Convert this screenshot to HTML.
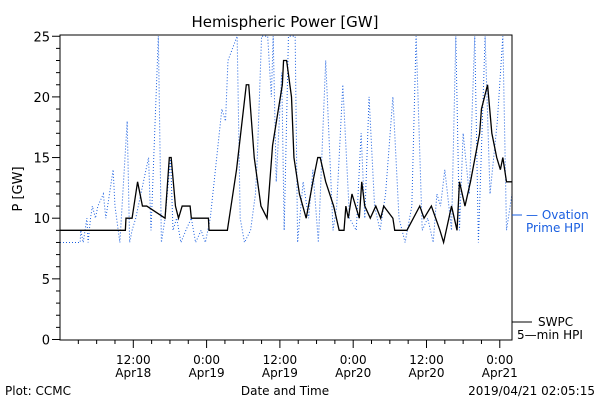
<!DOCTYPE html>
<html><head><meta charset="utf-8"><style>
body{margin:0;background:#fff;}
svg{display:block;font-family:"DejaVu Sans","Liberation Sans",sans-serif;}
</style></head><body>
<svg id="chart" width="600" height="400" viewBox="0 0 600 400" xmlns="http://www.w3.org/2000/svg">
<rect width="600" height="400" fill="#fff"/>
<text x="285" y="27" font-size="15" text-anchor="middle">Hemispheric Power [GW]</text>
<text transform="translate(22,189) rotate(-90)" font-size="13" text-anchor="middle">P [GW]</text>
<g id="yticks"></g><g id="xticks"></g>
<g id="series"></g>
<rect x="60" y="35" width="452" height="305" fill="none" stroke="#000" stroke-width="1"/>
<line x1="512" y1="215" x2="522" y2="215" stroke="#1a5fe0"/>
<text x="526" y="219" font-size="12" fill="#1a5fe0">— Ovation</text>
<text x="526" y="232" font-size="12" fill="#1a5fe0">Prime HPI</text>
<line x1="512" y1="322" x2="532" y2="322" stroke="#000"/>
<text x="538" y="326" font-size="12">SWPC</text>
<text x="517" y="339" font-size="12">5—min HPI</text>
<text x="285" y="395" font-size="12" text-anchor="middle">Date and Time</text>
<text x="5" y="395" font-size="12">Plot: CCMC</text>
<text x="595" y="395" font-size="12" text-anchor="end">2019/04/21 02:05:15</text>
</svg>
<script>
const yTicks=[0,5,10,15,20,25];
const xTickHours=[12,24,36,48,60,72];
const xTickTop=["12:00","0:00","12:00","0:00","12:00","0:00"];
const xTickBottom=["Apr18","Apr19","Apr19","Apr20","Apr20","Apr21"];
const swpcHours=[0,10.7,10.8,11.8,12.7,13.5,14.2,17.2,17.9,18.2,18.9,19.4,20.0,21.3,21.5,24.3,24.4,27.4,28.9,30.5,30.9,31.8,32.9,33.9,34.8,36.4,36.6,37.1,37.9,38.3,39.2,40.3,41.4,42.2,42.6,43.5,44.8,45.7,46.5,46.8,47.2,47.8,49.0,49.4,49.9,50.8,51.7,52.5,53.0,54.5,54.8,56.8,58.9,59.6,60.8,62.2,62.8,64.1,65.0,65.4,66.3,67.2,68.7,69.0,70.0,70.7,71.5,72.1,72.5,73.1,74];
const swpcValues=[9,9,10,10,13,11,11,10,15,15,11,10,11,11,10,10,9,9,14,21,21,15,11,10,16,21,23,23,20,15,12,10,13,15,15,13,11,9,9,11,10,12,10,13,11,10,11,10,11,10,9,9,11,10,11,9,8,11,9,13,11,13,17,19,21,17,15,14,15,13,13];
const ovationHours=[0,3.3,3.4,3.8,4.4,4.6,5.0,5.3,5.8,6.2,7.1,7.5,8.7,9.0,9.8,11.0,11.4,11.8,12.4,14.5,14.9,16.1,16.6,17.2,18.1,18.5,19.1,19.8,20.6,21.5,22.2,23.1,23.8,24.6,26.5,27.1,27.5,29.0,29.5,30.2,31.2,32.0,32.3,33.0,34.0,34.6,34.9,35.4,36.3,36.7,37.4,38.5,38.9,39.8,40.7,41.4,42.3,43.5,44.7,45.3,46.3,47.4,48.5,49.3,49.9,50.6,51.5,52.4,53.3,54.5,55.5,56.5,57.6,58.3,59.3,60.2,61.1,61.7,62.3,63.0,64.1,64.8,65.4,66.0,67.0,67.9,68.5,69.6,70.4,71.6,72.5,73.1,74];
const ovationValues=[8,8,9,8,10,8,10,11,10,11,12,10,14,11,8,18,8,9,10,15,9,25,8,10,15,9,10,8,9,10,8,9,8,10,19,18,23,25,10,8,9,12,15,25,25,20,25,13,22,9,25,25,8,13,10,14,8,23,9,11,21,10,9,17,10,20,11,9,12,20,10,8,11,25,9,10,8,12,11,14,9,25,9,17,12,25,8,25,12,18,25,9,12];
const X0=60,X1=512,Y0=339.5,PY=12.13,HSPAN=74;
const xs=h=>X0+(X1-X0)*h/HSPAN;
const ys=v=>Y0-v*PY;
const NS="http://www.w3.org/2000/svg";
function mk(tag,attrs,parent){const e=document.createElementNS(NS,tag);for(const k in attrs)e.setAttribute(k,attrs[k]);parent.appendChild(e);return e;}
const yt=document.getElementById('yticks');
for(let v=0;v<=25;v++){const l=mk('line',{x1:X0-(v%5===0?8:4),x2:X0,y1:ys(v),y2:ys(v),stroke:'#000'},yt);

}
yTicks.forEach(v=>{const t=mk('text',{x:X0-10,y:ys(v)+5,'font-size':13,'text-anchor':'end'},yt);t.textContent=v;

});
const xt=document.getElementById('xticks');
for(let h=3;h<HSPAN;h+=3){const l=mk('line',{x1:xs(h),x2:xs(h),y1:340,y2:340+(h%12===0?8:4),stroke:'#000'},xt);

}
xTickHours.forEach((h,i)=>{const x=xs(h);
const a=mk('text',{x:x,y:364,'font-size':12,'text-anchor':'middle'},xt);a.textContent=xTickTop[i];


const b=mk('text',{x:x,y:377,'font-size':12,'text-anchor':'middle'},xt);b.textContent=xTickBottom[i];

});
const sg=document.getElementById('series');
const op=mk('polyline',{points:ovationHours.map((h,i)=>xs(h)+','+ys(ovationValues[i])).join(' '),fill:'none',stroke:'#1a5fe0','stroke-width':1,'stroke-dasharray':'1 2'},sg);


const sp=mk('polyline',{points:swpcHours.map((h,i)=>xs(h)+','+ys(swpcValues[i])).join(' '),fill:'none',stroke:'#000','stroke-width':1.3},sg);


</script>
</body></html>
